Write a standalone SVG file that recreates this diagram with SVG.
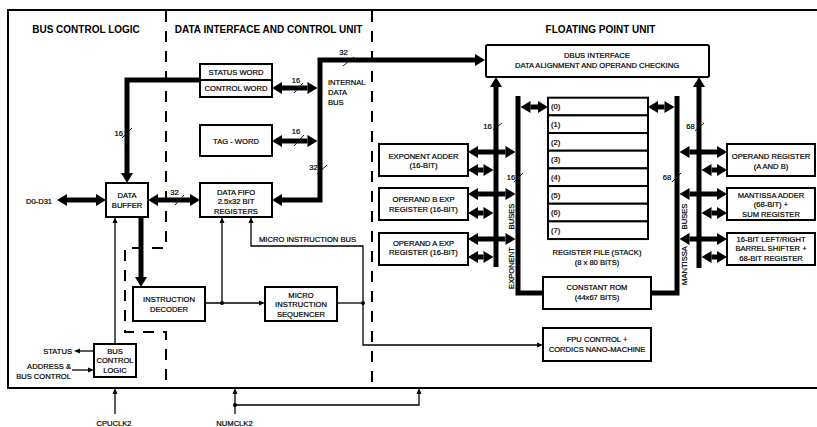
<svg xmlns="http://www.w3.org/2000/svg" width="817" height="427" viewBox="0 0 817 427">
<defs>
<style>
.t{font-family:"Liberation Sans",Arial,sans-serif;font-size:7.6px;fill:#000;stroke:#000;stroke-width:0.2}
.c{text-anchor:middle}
.e{text-anchor:end}
.h{font-family:"Liberation Sans",Arial,sans-serif;font-size:10px;font-weight:bold;fill:#000;text-anchor:middle}
.box{fill:#fff;stroke:#000;stroke-width:2}
.thick{fill:none;stroke:#000;stroke-width:5;stroke-linejoin:miter}
.thin{fill:none;stroke:#000;stroke-width:1.3}
.tick{fill:none;stroke:#000;stroke-width:0.9}
.dash{fill:none;stroke:#000;stroke-width:2;stroke-dasharray:11 9}
.dbl{marker-start:url(#ah);marker-end:url(#ah)}
.end{marker-end:url(#ah)}
.tend{marker-end:url(#at)}
</style>
<marker id="ah" markerUnits="userSpaceOnUse" markerWidth="10" markerHeight="12" refX="0" refY="6" orient="auto-start-reverse" overflow="visible"><path d="M0,0 L10,6 L0,12 z" fill="#000"/></marker>
<marker id="at" markerUnits="userSpaceOnUse" markerWidth="6" markerHeight="5" refX="0" refY="2.5" orient="auto-start-reverse" overflow="visible"><path d="M0,0 L6,2.5 L0,5 z" fill="#000"/></marker>
</defs>
<rect width="817" height="427" fill="#fff"/>
<g id="frame">
<rect x="8" y="10" width="830" height="378" fill="none" stroke="#000" stroke-width="2"/>
<path class="dash" d="M166,11 V248 H125 V332 H166 V387"/>
<path class="dash" d="M372,11 V387"/>
<text class="h" x="86" y="32.6">BUS CONTROL LOGIC</text>
<text class="h" x="268.5" y="32.6">DATA INTERFACE AND CONTROL UNIT</text>
<text class="h" x="600.5" y="32.6">FLOATING POINT UNIT</text>
</g>
<g id="connectors">
<path class="thick end" d="M200,80 H127 V173"/>
<path class="thick dbl" d="M67,200 H96"/>
<path class="thick dbl" d="M158,200 H190"/>
<path class="thick dbl" d="M282,88 H307.5"/>
<path class="thick dbl" d="M282,141 H307.5"/>
<path class="thick dbl" d="M282,200 H320 V60 H475"/>
<path class="thick end" d="M141,217 V277"/>
<path class="thick end" d="M496,267 V87"/>
<path class="thick" d="M518,96 V293 H543"/>
<path class="thick end" d="M699,268 V87"/>
<path class="thick" d="M677,96 V293 H651"/>
<path class="thick dbl" d="M530.5,107 H538"/>
<path class="thick dbl" d="M658,107 H664.5"/>
<path class="thick dbl" d="M478,152 H505.5"/>
<path class="thick dbl" d="M478,194 H505.5"/>
<path class="thick dbl" d="M478,239 H505.5"/>
<path class="thick dbl" d="M478,170 H483.5"/>
<path class="thick dbl" d="M478,213 H483.5"/>
<path class="thick dbl" d="M478,257 H483.5"/>
<path class="thick dbl" d="M689.5,152 H717"/>
<path class="thick dbl" d="M689.5,194 H717"/>
<path class="thick dbl" d="M689.5,239 H717"/>
<path class="thick dbl" d="M711.5,170 H717"/>
<path class="thick dbl" d="M711.5,213 H717"/>
<path class="thick dbl" d="M711.5,257 H717"/>
<path class="thin tend" d="M222,303 V223"/>
<path class="thin tend" d="M205,303 H259"/>
<path class="thin" d="M337,303 H363"/>
<path class="thin" d="M251,223 V246 H363 V345 H537" style="marker-start:url(#at);marker-end:url(#at)"/>
<path class="thin tend" d="M115,344 V223"/>
<path class="thin tend" d="M94,351 H80"/>
<path class="thin tend" d="M72,370 H88"/>
<path class="thin tend" d="M115,414 V394"/>
<path class="thin tend" d="M235,414 V394"/>
<path class="thin tend" d="M235,405 H419 V394"/>
<circle cx="222" cy="303" r="2"/>
<circle cx="363" cy="303" r="2"/>
<circle cx="235" cy="405" r="2"/>
<path class="tick" d="M122,138 L132,128 M175,205 L184,195 M294,93 L303,83 M294,146 L304,135 M343,66 L354,57 M317,174 L327,165 M493,130 L502,123 M695,131 L704,123 M514,182 L523,173 M672,182 L681,173"/>
<text class="t e" x="123" y="135.5">16</text>
<text class="t c" x="174.5" y="194.7">32</text>
<text class="t c" x="296" y="83">16</text>
<text class="t c" x="296" y="134.4">16</text>
<text class="t c" x="343.5" y="55.4">32</text>
<text class="t c" x="313.5" y="170.4">32</text>
<text class="t c" x="487.5" y="128.7">16</text>
<text class="t c" x="690.5" y="128.7">68</text>
<text class="t c" x="511" y="180.4">16</text>
<text class="t c" x="667" y="180.4">68</text>
<text class="t" x="328" y="85.4">INTERNAL</text>
<text class="t" x="328" y="95.4">DATA</text>
<text class="t" x="328" y="105.4">BUS</text>
<text class="t" x="259" y="242">MICRO INSTRUCTION BUS</text>
<text class="t c" x="39" y="203.7">D0-D31</text>
<text class="t e" x="72" y="353.7">STATUS</text>
<text class="t e" x="71" y="369.4">ADDRESS &amp;</text>
<text class="t e" x="71" y="379.4">BUS CONTROL</text>
<text class="t c" x="114" y="426">CPUCLK2</text>
<text class="t c" x="234.5" y="426">NUMCLK2</text>
<text class="t c" transform="translate(513.7,268) rotate(-90)">EXPONENT</text>
<text class="t c" transform="translate(513.7,216.5) rotate(-90)">BUSES</text>
<text class="t c" transform="translate(687.2,265.5) rotate(-90)">MANTISSA</text>
<text class="t c" transform="translate(687.2,216.5) rotate(-90)">BUSES</text>
</g>
<g id="status-word"><rect class="box" x="200" y="64" width="72" height="16"/><text class="t c" x="236" y="74.7">STATUS WORD</text></g>
<g id="control-word"><rect class="box" x="200" y="80" width="72" height="17"/><text class="t c" x="236" y="91.2">CONTROL WORD</text></g>
<g id="tag-word"><rect class="box" x="200" y="125" width="72" height="31"/><text class="t c" x="236" y="143.7">TAG - WORD</text></g>
<g id="data-fifo"><rect class="box" x="200" y="183" width="72" height="34"/><text class="t c" x="236" y="194.5">DATA FIFO</text><text class="t c" x="236" y="204">2.5x32 BIT</text><text class="t c" x="236" y="213.5">REGISTERS</text></g>
<g id="data-buffer"><rect class="box" x="106" y="183" width="42" height="34"/><text class="t c" x="127" y="198.4">DATA</text><text class="t c" x="127" y="207.7">BUFFER</text></g>
<g id="instruction-decoder"><rect class="box" x="133" y="287" width="72" height="34"/><text class="t c" x="169" y="302">INSTRUCTION</text><text class="t c" x="169" y="312">DECODER</text></g>
<g id="micro-sequencer"><rect class="box" x="265" y="287" width="72" height="34"/><text class="t c" x="301" y="297.7">MICRO</text><text class="t c" x="301" y="307">INSTRUCTION</text><text class="t c" x="301" y="316.7">SEQUENCER</text></g>
<g id="bus-control-logic"><rect class="box" x="94" y="344" width="42" height="33"/><text class="t c" x="115" y="353.7">BUS</text><text class="t c" x="115" y="363.4">CONTROL</text><text class="t c" x="115" y="373.4">LOGIC</text></g>
<g id="dbus-interface"><rect class="box" x="486" y="45" width="223" height="32" rx="1.5"/><text class="t c" x="597" y="57.7">DBUS INTERFACE</text><text class="t c" x="597" y="67.7">DATA ALIGNMENT AND OPERAND CHECKING</text></g>
<g id="register-file">
<rect class="box" x="548" y="97.7" width="100" height="17.67"/>
<rect class="box" x="548" y="115.37" width="100" height="17.67"/>
<rect class="box" x="548" y="133.04" width="100" height="17.67"/>
<rect class="box" x="548" y="150.71" width="100" height="17.67"/>
<rect class="box" x="548" y="168.38" width="100" height="17.67"/>
<rect class="box" x="548" y="186.05" width="100" height="17.67"/>
<rect class="box" x="548" y="203.72" width="100" height="17.67"/>
<rect class="box" x="548" y="221.39" width="100" height="17.67"/>
<text class="t" x="551" y="109.2">(0)</text>
<text class="t" x="551" y="126.9">(1)</text>
<text class="t" x="551" y="144.5">(2)</text>
<text class="t" x="551" y="162.2">(3)</text>
<text class="t" x="551" y="179.9">(4)</text>
<text class="t" x="551" y="197.5">(5)</text>
<text class="t" x="551" y="215.2">(6)</text>
<text class="t" x="551" y="232.9">(7)</text>
<text class="t c" x="597" y="255.4">REGISTER FILE (STACK)</text>
<text class="t c" x="597" y="265.4">(8 x 80 BITS)</text>
</g>
<g id="exponent-adder"><rect class="box" x="379" y="144" width="89" height="32"/><text class="t c" x="423.5" y="158.7">EXPONENT ADDER</text><text class="t c" x="423.5" y="168">(16-BIT)</text></g>
<g id="operand-b-exp"><rect class="box" x="379" y="188" width="89" height="32"/><text class="t c" x="423.5" y="201.7">OPERAND B EXP</text><text class="t c" x="423.5" y="211.7">REGISTER (16-BIT)</text></g>
<g id="operand-a-exp"><rect class="box" x="379" y="233" width="89" height="32"/><text class="t c" x="423.5" y="246">OPERAND A EXP</text><text class="t c" x="423.5" y="255.4">REGISTER (16-BIT)</text></g>
<g id="operand-register"><rect class="box" x="727" y="144" width="88" height="32"/><text class="t c" x="771" y="158.7">OPERAND REGISTER</text><text class="t c" x="771" y="168.7">(A AND B)</text></g>
<g id="mantissa-adder"><rect class="box" x="727" y="188" width="88" height="32"/><text class="t c" x="771" y="197.7">MANTISSA ADDER</text><text class="t c" x="771" y="206.7">(68-BIT) +</text><text class="t c" x="771" y="217">SUM REGISTER</text></g>
<g id="barrel-shifter"><rect class="box" x="727" y="233" width="88" height="32"/><text class="t c" x="771" y="241.7">16-BIT LEFT/RIGHT</text><text class="t c" x="771" y="251">BARREL SHIFTER +</text><text class="t c" x="771" y="261">68-BIT REGISTER</text></g>
<g id="constant-rom"><rect class="box" x="543" y="277" width="108" height="32"/><text class="t c" x="597" y="290">CONSTANT ROM</text><text class="t c" x="597" y="300">(44x67 BITS)</text></g>
<g id="fpu-control"><rect class="box" x="543" y="328" width="108" height="33"/><text class="t c" x="597" y="342">FPU CONTROL +</text><text class="t c" x="597" y="352">CORDICS NANO-MACHINE</text></g>
</svg>
